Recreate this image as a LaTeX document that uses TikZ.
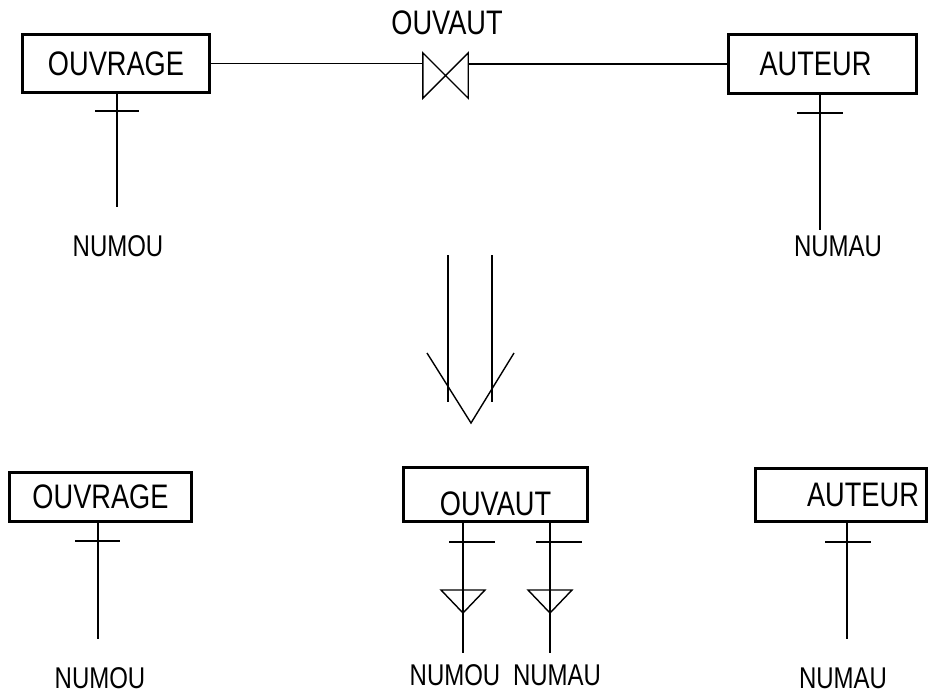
\documentclass[tikz,border=0pt]{standalone}
\usepackage{fontspec}
\setmainfont[FakeStretch=0.8]{Liberation Sans}
\usetikzlibrary{positioning, calc}

\begin{document}
\begin{tikzpicture}[x=1pt, y=-1pt,
        entity/.style={rectangle, draw, line width=3.5pt, inner sep=0pt, font=\fontsize{34}{40}\selectfont},
        attr/.style={inner sep=0pt, font=\fontsize{30}{36}\selectfont},
        link/.style={line width=1.4pt},
        bar/.style={line width=1.4pt}
      ]
      \useasboundingbox (0,0) rectangle (936,694);
      % schema before
      \node[entity, minimum width=187pt, minimum height=58pt] (ouvT) at (116,63.5) {OUVRAGE};
      \node[entity, minimum width=188pt, minimum height=59pt] (autT) at (822.5,64) {AUTEUR\hspace*{14pt}};
      \node[minimum width=45pt, minimum height=45pt, inner sep=0pt] (rel) at (445.5,75.5) {};
      \node[inner sep=0pt, font=\fontsize{34}{40}\selectfont] (relName) at (447,23) {OUVAUT};
      \draw[link] (rel.north west) -- (rel.south east) -- (rel.north east) -- (rel.south west) -- cycle;
      \draw[link] (ouvT.east) -- (ouvT.east -| rel.west);
      \draw[link] (autT.west) -- (autT.west -| rel.east);
      \node[attr] (numouT) at (118,246) {NUMOU};
      \node[attr] (numauT) at (838,246) {NUMAU};
      \coordinate (ouvTtop) at (117,94);
      \coordinate (ouvTend) at (117,207);
      \coordinate (autTtop) at (820,95);
      \coordinate (autTend) at (820,230);
      \draw[link] (ouvTtop) -- (ouvTend);
      \draw[link] (autTtop) -- (autTend);
      \draw[bar] ($(ouvTtop)+(-22,17)$) -- ++(44,0);
      \draw[bar] ($(autTtop)+(-23,18)$) -- ++(46,0);
      % transformation arrow
      \draw[link] (448,255) -- (448,402);
      \draw[link] (492,255) -- (492,402);
      \draw[link] (427,353) -- (471,423) -- (514,353);
      % schema after
      \node[entity, minimum width=182pt, minimum height=49pt] (ouvB) at (100.5,497) {OUVRAGE};
      \node[entity, minimum width=184pt, minimum height=54pt] (ouvautB) at (495.5,494.5) {\rule{0pt}{42pt}OUVAUT};
      \node[entity, minimum width=171pt, minimum height=53pt] (autB) at (841,495) {\hspace*{44pt}AUTEUR};
      \node[attr] (numouB) at (100,678) {NUMOU};
      \node[attr] (numouR) at (455,675) {NUMOU};
      \node[attr] (numauR) at (557,675) {NUMAU};
      \node[attr] (numauB) at (843,678) {NUMAU};
      \coordinate (ouvBtop) at (98,523);
      \coordinate (ouvBend) at (98,639);
      \coordinate (autBtop) at (847,523);
      \coordinate (autBend) at (847,639);
      \draw[link] (ouvBtop) -- (ouvBend);
      \draw[link] (autBtop) -- (autBend);
      \draw[bar] ($(ouvBtop)+(-23,18)$) -- ++(45,0);
      \draw[bar] ($(autBtop)+(-22,19)$) -- ++(46,0);
      \foreach \x/\k in {463/ou, 550/au} {
         \coordinate (\k top) at (\x,523);
         \coordinate (\k tip) at (\x,613);
         \coordinate (\k end) at (\x,653);
         \draw[link] (\k top) -- (\k end);
         \draw[bar] ($(\k top)+(-14,19)$) -- ++(46,0);
         \draw[link] (\k tip) -- ++(-22,-23) -- ++(44,0) -- cycle;
      }
    \end{tikzpicture}
\end{document}
